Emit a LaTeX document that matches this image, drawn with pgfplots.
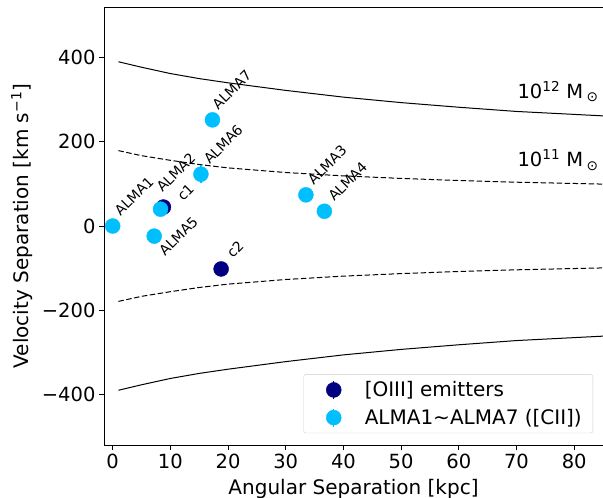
\documentclass[border=0pt]{standalone}
\usepackage{pgfplots}
\pgfplotsset{compat=1.18}
\usepackage{fontspec}
\setmainfont{DejaVu Sans}
\definecolor{navyc}{RGB}{0,0,128}
\definecolor{skyc}{RGB}{0,191,255}
\newcommand{\lab}{\fontsize{14}{15}\selectfont}
\begin{document}
\begin{tikzpicture}
\begin{axis}[
  scale only axis, width=499pt, height=438pt,
  xmin=-1.5, xmax=85, ymin=-520, ymax=520,
  xtick={0,10,20,30,40,50,60,70,80},
  ytick={-400,-200,0,200,400},
  yticklabels={−400,−200,0,200,400},
  tick align=outside, major tick length=5pt,
  tick style={black, line width=0.8pt},
  xtick pos=bottom, ytick pos=left,
  axis line style={black, line width=0.8pt},
  ticklabel style={font=\fontsize{19.5}{20}\selectfont},
  /pgf/number format/assume math mode=true,
  xlabel={Angular Separation [kpc]},
  ylabel={Velocity Separation [km s\textsuperscript{−1}]},
  label style={font=\fontsize{20}{21}\selectfont},
  xlabel style={at={(axis description cs:0.5,0)}, anchor=base, yshift=-49pt},
  ylabel style={at={(axis description cs:-0.1643,0.5)}, anchor=center},
  legend style={at={(rel axis cs:0.98,0.027)}, anchor=south east,
    draw=black!20, rounded corners=2pt, font=\fontsize{20}{21}\selectfont,
    row sep=7pt, inner xsep=9pt, inner ysep=5pt, column sep=0pt},
  legend cell align=left,
  clip=true,
]
% 10^12 Msun curves
\addplot[black, line width=1pt, forget plot] coordinates {
(1,390) (5,377) (10,362) (15,350) (20,340) (30,322) (40,306) (50,293) (60,282) (70,272) (80,265) (90,258)};
\addplot[black, line width=1pt, forget plot] coordinates {
(1,-390) (5,-377) (10,-362) (15,-350) (20,-340) (30,-322) (40,-306) (50,-293) (60,-282) (70,-272) (80,-265) (90,-258)};
% 10^11 Msun curves
\addplot[black, line width=1pt, dash pattern=on 5.5pt off 2.5pt, forget plot] coordinates {
(1,179) (5,167) (10,156) (15,146) (20,138) (30,127) (40,119) (50,113) (60,108) (70,104) (80,101) (90,98)};
\addplot[black, line width=1pt, dash pattern=on 5.5pt off 2.5pt, forget plot] coordinates {
(1,-179) (5,-167) (10,-156) (15,-146) (20,-138) (30,-127) (40,-119) (50,-113) (60,-108) (70,-104) (80,-101) (90,-98)};
% [OIII] emitters
\addplot[only marks, mark=*, mark size=7.5pt, color=navyc, mark options={fill=navyc, draw=navyc},
  legend image code/.code={\path[draw=none] (0pt,0pt) -- (50pt,0pt); \draw[navyc, line width=1.2pt] (21pt,-9pt) -- (21pt,9pt); \fill[navyc] (21pt,0pt) circle (7.5pt);},
  error bars/.cd, y dir=both, y explicit, error bar style={line width=1.2pt}, error mark=none]
  coordinates {(8.8,45) +- (0,12) (18.8,-102) +- (0,12)};
\addlegendentry{[OIII] emitters}
% ALMA [CII]
\addplot[only marks, mark=*, mark size=7.5pt, color=skyc, mark options={fill=skyc, draw=skyc},
  legend image code/.code={\path[draw=none] (0pt,0pt) -- (50pt,0pt); \draw[skyc, line width=1.2pt] (21pt,-9pt) -- (21pt,9pt); \fill[skyc] (21pt,0pt) circle (7.5pt);},
  error bars/.cd, y dir=both, y explicit, error bar style={line width=1.2pt}, error mark=none]
  coordinates {(0,0) +- (0,10) (8.3,40) +- (0,10) (33.5,74) +- (0,12) (36.7,35) +- (0,12) (7.2,-24) +- (0,10) (15.3,123) +- (0,22) (17.3,252) +- (0,12)};
\addlegendentry{ALMA1\char"007E ALMA7 ([CII])}
% point labels
\node[rotate=45, anchor=south west, inner sep=0pt, font=\lab] at ([shift={(8pt,9pt)}]axis cs:0,0) {ALMA1};
\node[rotate=45, anchor=south west, inner sep=0pt, font=\lab] at ([shift={(2pt,16pt)}]axis cs:8.3,40) {ALMA2};
\node[rotate=45, anchor=south west, inner sep=0pt, font=\lab] at ([shift={(20pt,5pt)}]axis cs:8.8,45) {c1};
\node[rotate=45, anchor=south west, inner sep=0pt, font=\lab] at ([shift={(9pt,9pt)}]axis cs:15.3,123) {ALMA6};
\node[rotate=45, anchor=south west, inner sep=0pt, font=\lab] at ([shift={(6pt,9pt)}]axis cs:17.3,252) {ALMA7};
\node[rotate=45, anchor=south west, inner sep=0pt, font=\lab] at ([shift={(12pt,10pt)}]axis cs:18.8,-102) {c2};
\node[rotate=45, anchor=south west, inner sep=0pt, font=\lab] at ([shift={(8pt,9pt)}]axis cs:33.5,74) {ALMA3};
\node[rotate=45, anchor=south west, inner sep=0pt, font=\lab] at ([shift={(10pt,9pt)}]axis cs:36.7,35) {ALMA4};
\node[rotate=45, anchor=south west, inner sep=0pt, font=\lab] at ([shift={(11pt,-21pt)}]axis cs:7.2,-24) {ALMA5};
% mass labels
\node[anchor=center, font=\fontsize{19.5}{20}\selectfont] at (axis cs:77.2,319) {10\textsuperscript{12} M\,\textsubscript{⊙}};
\node[anchor=center, font=\fontsize{19.5}{20}\selectfont] at (axis cs:77.2,157) {10\textsuperscript{11} M\,\textsubscript{⊙}};
\end{axis}
\pgfresetboundingbox
\path[use as bounding box] ([xshift=-104pt,yshift=-52pt]current axis.south west) rectangle ([yshift=7pt]current axis.north east);
\end{tikzpicture}
\end{document}
